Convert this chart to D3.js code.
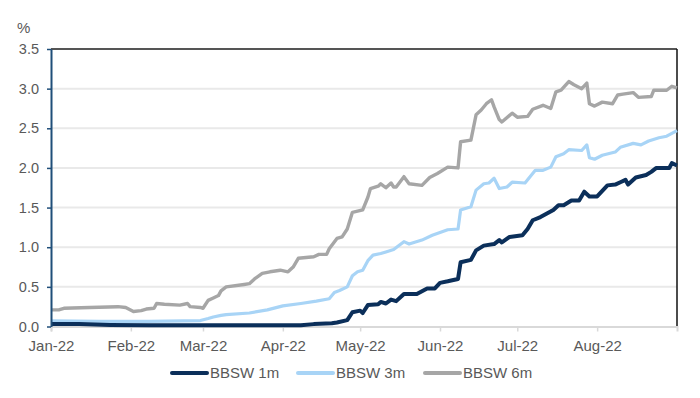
<!DOCTYPE html>
<html>
<head>
<meta charset="utf-8">
<script src="https://cdn.jsdelivr.net/npm/d3@7"></script>
<style>
  html, body { margin: 0; padding: 0; background: #fff; }
  svg { display: block; font-family: "Liberation Sans", Arial, sans-serif; }
</style>
</head>
<body>
<svg id="chart" width="700" height="398"></svg>
<script>
// ---------------- data ----------------
const seriesNames = ["BBSW 1m", "BBSW 3m", "BBSW 6m"];
const yTickValues = [0, 0.5, 1.0, 1.5, 2.0, 2.5, 3.0, 3.5];
const monthTicks = ["2022-01-01","2022-02-01","2022-03-01","2022-04-01","2022-05-01","2022-06-01","2022-07-01","2022-08-01"];

const dates1m = ["2022-01-01","2022-01-12","2022-01-24","2022-02-08","2022-02-28","2022-03-19","2022-04-08","2022-04-13","2022-04-20","2022-04-22","2022-04-26","2022-04-28","2022-05-01","2022-05-02","2022-05-04","2022-05-08","2022-05-09","2022-05-11","2022-05-13","2022-05-15","2022-05-18","2022-05-23","2022-05-27","2022-05-30","2022-06-01","2022-06-04","2022-06-08","2022-06-09","2022-06-13","2022-06-15","2022-06-18","2022-06-22","2022-06-24","2022-06-25","2022-06-28","2022-07-03","2022-07-05","2022-07-07","2022-07-10","2022-07-15","2022-07-17","2022-07-19","2022-07-22","2022-07-25","2022-07-27","2022-07-29","2022-08-01","2022-08-05","2022-08-08","2022-08-10","2022-08-12","2022-08-13","2022-08-16","2022-08-20","2022-08-22","2022-08-24","2022-08-29","2022-08-30","2022-09-01"];
const values1m = [0.03,0.03,0.02,0.015,0.015,0.015,0.015,0.03,0.04,0.05,0.08,0.18,0.20,0.17,0.27,0.28,0.31,0.29,0.34,0.32,0.41,0.41,0.48,0.48,0.55,0.57,0.60,0.81,0.84,0.96,1.02,1.04,1.09,1.06,1.13,1.15,1.23,1.34,1.38,1.47,1.53,1.53,1.59,1.59,1.70,1.64,1.64,1.78,1.79,1.82,1.85,1.79,1.88,1.91,1.95,2.00,2.00,2.06,2.03];

const dates3m = ["2022-01-01","2022-01-20","2022-02-08","2022-02-28","2022-03-03","2022-03-05","2022-03-08","2022-03-10","2022-03-19","2022-03-26","2022-04-01","2022-04-08","2022-04-14","2022-04-19","2022-04-21","2022-04-23","2022-04-26","2022-04-28","2022-04-30","2022-05-02","2022-05-04","2022-05-06","2022-05-09","2022-05-11","2022-05-14","2022-05-18","2022-05-20","2022-05-25","2022-05-29","2022-06-04","2022-06-08","2022-06-09","2022-06-13","2022-06-15","2022-06-18","2022-06-20","2022-06-22","2022-06-24","2022-06-27","2022-06-29","2022-07-04","2022-07-08","2022-07-11","2022-07-14","2022-07-16","2022-07-19","2022-07-21","2022-07-26","2022-07-28","2022-07-29","2022-07-31","2022-08-03","2022-08-08","2022-08-10","2022-08-15","2022-08-18","2022-08-21","2022-08-25","2022-08-28","2022-09-01"];
const values3m = [0.07,0.065,0.065,0.075,0.10,0.12,0.14,0.15,0.17,0.21,0.26,0.29,0.32,0.35,0.43,0.455,0.50,0.64,0.69,0.71,0.83,0.90,0.92,0.94,0.97,1.07,1.04,1.09,1.15,1.22,1.23,1.47,1.51,1.72,1.80,1.81,1.87,1.74,1.76,1.82,1.81,1.97,1.97,2.01,2.14,2.18,2.23,2.22,2.29,2.13,2.11,2.16,2.20,2.26,2.31,2.29,2.34,2.38,2.40,2.47];

const dates6m = ["2022-01-01","2022-01-04","2022-01-06","2022-01-16","2022-01-27","2022-01-30","2022-02-02","2022-02-05","2022-02-07","2022-02-10","2022-02-11","2022-02-14","2022-02-20","2022-02-23","2022-02-24","2022-02-28","2022-03-01","2022-03-03","2022-03-05","2022-03-07","2022-03-08","2022-03-10","2022-03-17","2022-03-19","2022-03-21","2022-03-24","2022-03-27","2022-03-31","2022-04-03","2022-04-05","2022-04-07","2022-04-10","2022-04-13","2022-04-15","2022-04-18","2022-04-19","2022-04-22","2022-04-24","2022-04-26","2022-04-28","2022-05-02","2022-05-04","2022-05-05","2022-05-08","2022-05-09","2022-05-11","2022-05-13","2022-05-14","2022-05-15","2022-05-18","2022-05-20","2022-05-25","2022-05-28","2022-05-31","2022-06-04","2022-06-08","2022-06-09","2022-06-13","2022-06-15","2022-06-17","2022-06-19","2022-06-21","2022-06-22","2022-06-24","2022-06-25","2022-06-29","2022-07-01","2022-07-05","2022-07-07","2022-07-11","2022-07-14","2022-07-16","2022-07-18","2022-07-21","2022-07-23","2022-07-26","2022-07-28","2022-07-29","2022-07-31","2022-08-03","2022-08-07","2022-08-09","2022-08-11","2022-08-15","2022-08-17","2022-08-22","2022-08-23","2022-08-28","2022-08-30","2022-09-01"];
const values6m = [0.21,0.21,0.23,0.24,0.25,0.24,0.19,0.20,0.22,0.23,0.29,0.28,0.27,0.29,0.25,0.24,0.23,0.33,0.36,0.39,0.45,0.50,0.53,0.54,0.60,0.67,0.69,0.71,0.69,0.75,0.86,0.87,0.88,0.91,0.91,0.98,1.11,1.13,1.23,1.44,1.47,1.63,1.74,1.77,1.80,1.75,1.81,1.76,1.76,1.89,1.80,1.78,1.88,1.93,2.01,2.00,2.33,2.35,2.67,2.73,2.81,2.86,2.77,2.61,2.58,2.69,2.64,2.65,2.74,2.79,2.75,2.96,2.98,3.09,3.05,3.00,3.07,2.81,2.78,2.83,2.81,2.92,2.93,2.95,2.89,2.90,2.98,2.98,3.03,3.01];

// ---------------- chart ----------------
const parse = d3.timeParse("%Y-%m-%d");
const colors = ["#0b2f5a", "#a8d4f6", "#a6a6a6"];
const widths = [4, 3.2, 3.4];

const series = [
  {name: seriesNames[0], dates: dates1m, values: values1m},
  {name: seriesNames[1], dates: dates3m, values: values3m},
  {name: seriesNames[2], dates: dates6m, values: values6m}
].map((s, i) => ({
  name: s.name, color: colors[i], width: widths[i],
  points: s.dates.map((d, j) => ({date: parse(d), value: s.values[j]}))
}));

const svg = d3.select("#chart");
const plotLeft = 51, plotRight = 677, plotTop = 49, plotBottom = 326.5;

const x = d3.scaleTime().domain([parse("2022-01-01"), parse("2022-09-01")]).range([plotLeft, plotRight]);
const y = d3.scaleLinear().domain([0, 3.5]).range([plotBottom, plotTop]);

// grid lines
svg.append("g").selectAll("line")
  .data(yTickValues.filter(v => v > 0 && v < 3.5))
  .join("line")
  .attr("x1", plotLeft).attr("x2", plotRight)
  .attr("y1", d => y(d)).attr("y2", d => y(d))
  .attr("stroke", "#e9e9e9").attr("stroke-width", 2);

// top border line
svg.append("line")
  .attr("x1", plotLeft).attr("x2", plotRight)
  .attr("y1", y(3.5)).attr("y2", y(3.5))
  .attr("stroke", "#555").attr("stroke-width", 2);

// right border line
svg.append("line")
  .attr("x1", plotRight).attr("x2", plotRight)
  .attr("y1", y(3.5)).attr("y2", plotBottom)
  .attr("stroke", "#111").attr("stroke-width", 1.5);

// x axis
const xAxis = svg.append("g")
  .attr("transform", `translate(0,${plotBottom})`)
  .call(d3.axisBottom(x)
    .tickValues(monthTicks.map(parse))
    .tickFormat(d3.timeFormat("%b-%y"))
    .tickSize(5).tickSizeOuter(5).tickPadding(8.5));
xAxis.select(".domain").attr("stroke", "#d9d9d9").attr("stroke-width", 2);
xAxis.selectAll(".tick line").attr("stroke", "#d9d9d9").attr("stroke-width", 1.5);
xAxis.selectAll("text").attr("fill", "#595959").attr("font-size", 15)
  .attr("font-family", "Liberation Sans, Arial, sans-serif");

// lines
const line = d3.line().x(d => x(d.date)).y(d => y(d.value)).curve(d3.curveLinear);
svg.append("g").selectAll("path")
  .data(series.slice().reverse())
  .join("path")
  .attr("d", d => line(d.points))
  .attr("fill", "none")
  .attr("stroke", d => d.color)
  .attr("stroke-width", d => d.width)
  .attr("stroke-linejoin", "round");

// y axis
const yAxis = svg.append("g")
  .attr("transform", `translate(${plotLeft},0)`)
  .call(d3.axisLeft(y)
    .tickValues(yTickValues)
    .tickFormat(d3.format(".1f"))
    .tickSize(4).tickSizeOuter(0).tickPadding(8));
yAxis.select(".domain").attr("stroke", "#1f4e79").attr("stroke-width", 2);
yAxis.selectAll(".tick line").attr("stroke", "#1f4e79").attr("stroke-width", 1.5);
yAxis.selectAll("text").attr("fill", "#595959").attr("font-size", 14.5)
  .attr("font-family", "Liberation Sans, Arial, sans-serif");

// unit label
svg.append("text")
  .attr("x", 17).attr("y", 33)
  .attr("fill", "#595959").attr("font-size", 15)
  .text("%");

// legend
const legendX = [172, 298, 425];
const legend = svg.append("g").selectAll("g")
  .data(series)
  .join("g")
  .attr("transform", (d, i) => `translate(${legendX[i]},373)`);
legend.append("line")
  .attr("x1", 0).attr("x2", 35).attr("y1", 0).attr("y2", 0)
  .attr("stroke", d => d.color).attr("stroke-width", 4).attr("stroke-linecap", "round");
legend.append("text")
  .attr("x", 38).attr("y", 5.3)
  .attr("fill", "#595959").attr("font-size", 15)
  .text(d => d.name);
</script>
</body>
</html>
